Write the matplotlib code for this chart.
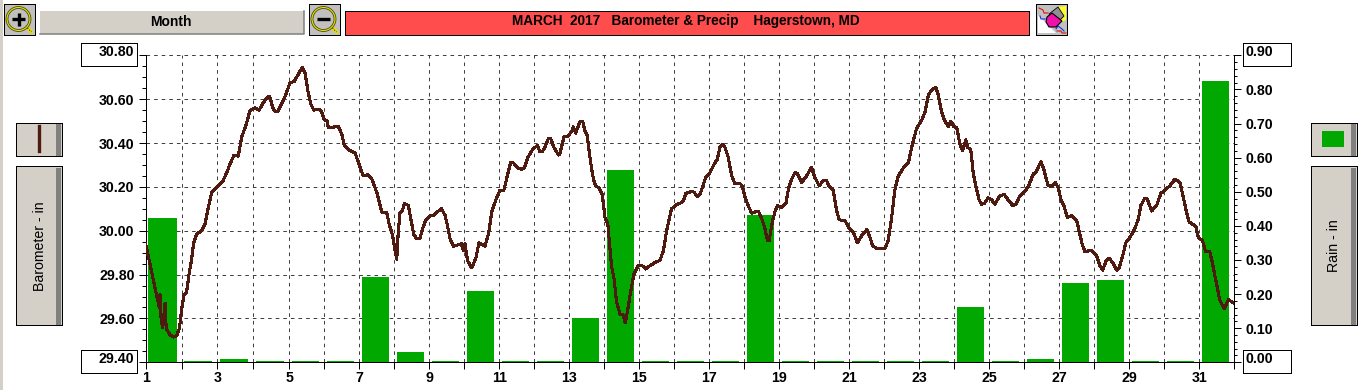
import numpy as np
import matplotlib
matplotlib.use("Agg")
import matplotlib.pyplot as plt
from matplotlib.patches import Rectangle, Circle, Polygon

plt.rcParams['font.family'] = ['Liberation Sans', 'DejaVu Sans']

# ---------- data ----------
rain_days = list(range(1, 32))
rain_in = [0.423, 0.004, 0.01, 0.004, 0.004, 0.004, 0.25, 0.03, 0.004, 0.21,
           0.004, 0.004, 0.13, 0.564, 0.004, 0.004, 0.004, 0.432, 0.004, 0.004,
           0.004, 0.004, 0.004, 0.162, 0.004, 0.01, 0.233, 0.241, 0.004, 0.004, 0.825]

baro_days = [
    1.00,1.09,1.17,1.23,1.31,1.38,1.40,1.42,1.47,1.54,1.57,1.68,1.77,1.86,1.94,2.00,2.07,2.14,2.21,2.28,
    2.33,2.42,2.56,2.65,2.75,2.84,2.96,3.07,3.16,3.27,3.35,3.46,3.58,3.67,3.79,3.91,4.05,4.16,4.28,4.39,
    4.46,4.54,4.60,4.68,4.79,4.90,5.02,5.14,5.26,5.37,5.45,5.54,5.62,5.70,5.83,5.92,6.00,6.09,6.11,6.40,
    6.50,6.57,6.69,6.88,7.00,7.11,7.24,7.35,7.51,7.64,7.78,7.86,7.95,8.02,8.07,8.11,8.16,8.23,8.29,8.40,
    8.50,8.56,8.64,8.73,8.81,8.90,9.04,9.13,9.26,9.35,9.45,9.51,9.59,9.69,9.92,9.97,10.02,10.09,10.21,10.33,
    10.42,10.59,10.69,10.79,10.90,11.02,11.13,11.23,11.32,11.40,11.54,11.63,11.71,11.82,11.95,12.09,12.16,12.23,12.30,12.40,
    12.47,12.56,12.69,12.73,12.85,12.94,13.09,13.11,13.18,13.30,13.38,13.45,13.51,13.59,13.64,13.69,13.75,13.85,13.94,14.02,
    14.10,14.16,14.21,14.28,14.35,14.45,14.54,14.60,14.69,14.75,14.85,14.97,15.09,15.18,15.30,15.45,15.59,15.69,15.78,15.92,
    16.07,16.16,16.26,16.33,16.50,16.57,16.66,16.73,16.81,16.90,17.02,17.16,17.23,17.30,17.38,17.45,17.54,17.64,17.73,17.88,
    17.94,18.02,18.11,18.21,18.40,18.50,18.59,18.66,18.71,18.80,18.88,18.95,19.07,19.19,19.26,19.35,19.45,19.52,19.64,19.78,
    19.92,20.01,20.14,20.26,20.35,20.43,20.54,20.64,20.71,20.88,21.00,21.11,21.23,21.38,21.50,21.59,21.67,21.78,22.02,22.11,
    22.21,22.30,22.40,22.54,22.69,22.78,22.92,23.07,23.16,23.26,23.35,23.47,23.54,23.64,23.73,23.83,23.90,23.99,24.07,24.16,
    24.24,24.33,24.38,24.47,24.54,24.62,24.71,24.78,24.86,24.97,25.07,25.16,25.30,25.43,25.54,25.67,25.76,25.86,25.99,26.11,
    26.26,26.33,26.47,26.56,26.67,26.78,26.89,26.97,27.05,27.14,27.23,27.35,27.50,27.57,27.66,27.73,27.92,28.07,28.16,28.24,
    28.33,28.43,28.54,28.64,28.71,28.81,28.90,29.02,29.16,29.26,29.33,29.43,29.51,29.64,29.78,29.90,30.02,30.16,30.30,30.45,
    30.54,30.64,30.71,30.90,30.97,31.09,31.18,31.30,31.38,31.45,31.53,31.58,31.71,31.83,32.00]
baro_in = [
    29.94,29.87,29.81,29.76,29.70,29.65,29.71,29.61,29.56,29.67,29.555,29.525,29.515,29.52,29.555,29.64,29.71,29.72,29.805,29.87,
    29.94,29.985,30.00,30.03,30.11,30.175,30.195,30.215,30.23,30.27,30.305,30.345,30.34,30.425,30.48,30.55,30.56,30.55,30.585,30.61,
    30.61,30.56,30.545,30.545,30.58,30.62,30.675,30.68,30.715,30.745,30.72,30.63,30.575,30.55,30.555,30.545,30.505,30.50,30.47,30.475,
    30.44,30.39,30.37,30.355,30.30,30.25,30.255,30.24,30.17,30.085,30.085,30.025,29.98,29.91,29.87,29.985,30.08,30.09,30.125,30.115,
    30.03,29.98,29.965,29.965,30.01,30.05,30.07,30.07,30.09,30.10,30.07,30.03,29.965,29.93,29.94,29.91,29.94,29.865,29.83,29.875,
    29.945,29.93,29.985,30.09,30.14,30.185,30.185,30.25,30.31,30.31,30.285,30.28,30.285,30.335,30.37,30.39,30.36,30.36,30.38,30.42,
    30.42,30.38,30.345,30.35,30.43,30.43,30.455,30.475,30.445,30.495,30.50,30.455,30.435,30.335,30.28,30.235,30.205,30.195,30.165,30.06,
    30.03,29.925,29.835,29.78,29.675,29.62,29.615,29.58,29.66,29.72,29.805,29.84,29.84,29.825,29.84,29.855,29.865,29.91,30.00,30.10,
    30.12,30.125,30.135,30.17,30.18,30.175,30.155,30.165,30.20,30.245,30.265,30.31,30.325,30.38,30.395,30.38,30.335,30.25,30.215,30.215,
    30.205,30.155,30.115,30.08,30.09,30.055,30.01,29.955,29.955,30.04,30.09,30.115,30.105,30.125,30.19,30.235,30.265,30.26,30.22,30.25,
    30.29,30.245,30.205,30.23,30.23,30.20,30.185,30.09,30.05,30.045,30.01,29.995,29.945,29.985,30.005,29.97,29.93,29.92,29.92,29.955,
    30.06,30.185,30.25,30.285,30.31,30.38,30.465,30.505,30.54,30.62,30.64,30.655,30.62,30.54,30.50,30.475,30.50,30.475,30.47,30.395,
    30.365,30.415,30.38,30.37,30.265,30.20,30.14,30.12,30.125,30.15,30.14,30.12,30.16,30.165,30.14,30.115,30.12,30.155,30.175,30.20,
    30.26,30.265,30.315,30.28,30.21,30.20,30.22,30.195,30.14,30.11,30.06,30.07,30.045,29.995,29.935,29.905,29.91,29.885,29.84,29.82,
    29.86,29.875,29.85,29.82,29.83,29.885,29.945,29.97,30.01,30.055,30.115,30.145,30.145,30.09,30.115,30.17,30.185,30.205,30.235,30.22,
    30.155,30.08,30.04,30.02,29.97,29.955,29.905,29.905,29.85,29.79,29.73,29.685,29.645,29.685,29.67]

tick_days = list(range(1, 33))
baro_ticks = [29.4, 29.6, 29.8, 30.0, 30.2, 30.4, 30.6, 30.8]
rain_ticks = [0.0, 0.1, 0.2, 0.3, 0.4, 0.5, 0.6, 0.7, 0.8, 0.9]
title_text = "MARCH  2017   Barometer & Precip    Hagerstown, MD"
span_text = "Month"
left_label = "Barometer - in"
right_label = "Rain - in"

# ---------- styles ----------
W, H = 1365, 390
FACE = '#d4d0c8'
SHADE = '#808080'
RED = '#ff4d4d'
GREEN = '#00a800'
BROWN = '#4f1b10'
GRID = '#404040'
DASH = (0, (3.6, 4.0))
THIN = 0.72

fig = plt.figure(figsize=(W / 100, H / 100), dpi=100, facecolor='white')

# overlay in pixel coordinates for the window furniture
ui = fig.add_axes([0, 0, 1, 1], zorder=0)
ui.set_xlim(0, W)
ui.set_ylim(H, 0)
ui.axis('off')


def box(x0, y0, x1, y1, fc, ec='black', lw=THIN, z=1):
    ui.add_patch(Rectangle((x0, y0), x1 - x0, y1 - y0, fc=fc, ec=ec, lw=lw, zorder=z,
                           antialiased=False))


def raised(x0, y0, x1, y1, border=True):
    box(x0, y0, x1, y1, FACE, 'black' if border else 'none')
    box(x1 - 5.5, y0 + 1.5, x1 - 0.5, y1 - 0.5, SHADE, 'none', z=2)


# left window edge
box(0, 0, 2.5, H, FACE, 'none')


def magnifier(x0, minus=False):
    box(x0, 3.5, x0 + 31.5, 34.5, '#c0c0c0')
    cx, cy = x0 + 15, 19
    ui.plot([cx + 9, cx + 13], [cy + 9, cy + 13], color='#e8e000', lw=2.4, zorder=3)
    ui.plot([cx + 9, cx + 13], [cy + 9, cy + 13], color='black', lw=0.7, ls=':', zorder=3)
    ui.add_patch(Circle((cx, cy), 11.5, fc='none', ec='#4a4a10', lw=2.0, zorder=3))
    ui.add_patch(Circle((cx, cy), 11.5, fc='none', ec='#e8e000', lw=0.8, zorder=4))
    ui.plot([cx - 6.5, cx + 6.5], [cy, cy], color='black', lw=2.4, zorder=5, solid_capstyle='butt')
    if not minus:
        ui.plot([cx, cx], [cy - 6.5, cy + 6.5], color='black', lw=2.4, zorder=5, solid_capstyle='butt')


magnifier(3.5)
magnifier(308.5, minus=True)

# span button
box(39.5, 10.5, 303.5, 34, FACE, 'none')
ui.plot([39.5, 303.5, 303.5], [33.5, 33.5, 10.5], color=SHADE, lw=1.1, zorder=2)
ui.text(171, 22.3, span_text, ha='center', va='center', fontsize=10, fontweight='bold', zorder=3)

# title
box(344.5, 10.5, 1028.5, 34.5, RED)
ui.text(686, 21.5, title_text, ha='center', va='center', fontsize=9.85, fontweight='bold', zorder=3)

# eraser icon
box(1035.5, 3.5, 1066.5, 34.5, '#c0c0c0')
ui.add_patch(Polygon([[1038, 33], [1038, 15], [1056, 33]], fc='white', ec='none', zorder=2))
ui.add_patch(Polygon([[1058, 7], [1066, 6], [1066, 20], [1062, 22]], fc='#ffff30', ec='none', zorder=2))
ui.add_patch(Polygon([[1049, 14], [1058, 7], [1064, 16], [1056, 24]], fc='#909090', ec='black', lw=0.6, zorder=3))
ui.add_patch(Polygon([[1047, 17], [1052, 13], [1062, 21], [1056, 27], [1049, 27], [1046, 22]],
                     fc='#ee10a8', ec='black', lw=0.8, zorder=4))
ui.plot([1039, 1043, 1044, 1048], [8, 10, 13, 13], color='#e01010', lw=0.8, zorder=3)
ui.plot([1040, 1041, 1045], [16, 19, 19], color='#1030e0', lw=0.8, zorder=3)
ui.plot([1056, 1058, 1062, 1064], [29, 26, 29, 31], color='#1030e0', lw=0.8, zorder=3)
ui.plot([1057, 1061, 1062, 1066], [31, 31, 33, 33], color='#e01010', lw=0.8, zorder=3)

# side buttons
raised(15.5, 122.5, 61.5, 156)
ui.plot([38.5, 38.5], [126, 151], color=BROWN, lw=2.4, zorder=3)
raised(15.5, 166, 61.5, 325)
ui.text(39.5, 246, left_label, rotation=90, ha='center', va='center', fontsize=10.2, zorder=3)
raised(1310.5, 122.5, 1356.5, 156)
box(1322, 131, 1344, 146.5, GREEN, 'none', z=3)
raised(1310.5, 166, 1356.5, 325)
ui.text(1334.5, 246, right_label, rotation=90, ha='center', va='center', fontsize=10.2, zorder=3)

# end-of-scale boxes
box(80.5, 42.5, 136.5, 65.5, 'white')
box(80.5, 349.5, 136.5, 372.5, 'white')
box(1242.5, 42.5, 1290.5, 65.5, 'white')
box(1242.5, 349.5, 1290.5, 372.5, 'white')
lab = dict(fontsize=10.2, fontweight='bold', va='center', zorder=3)
ui.text(134.5, 52, f"{baro_ticks[-1]:.2f}", ha='right', **lab)
ui.text(134.5, 359, f"{baro_ticks[0]:.2f}", ha='right', **lab)
ui.text(1245, 52, f"{rain_ticks[-1]:.2f}", ha='left', **lab)
ui.text(1245, 359, f"{rain_ticks[0]:.2f}", ha='left', **lab)

# ---------- chart ----------
left, right, top, bottom = 145.7, 1234.3, 55.3, 362.3
ax_r = fig.add_axes([left / W, 1 - bottom / H, (right - left) / W, (bottom - top) / H], zorder=2)
ax_r.patch.set_visible(False)


def fwd(d):
    return np.interp(d, [1, 5, 32], [0.0, 143.6, 1088.6])


def inv(p):
    return np.interp(p, [0.0, 143.6, 1088.6], [1, 5, 32])


ax_r.set_xscale('function', functions=(fwd, inv))
ax_r.set_xlim(1, 32)
ax_r.set_ylim(0, 0.9)
ax_p = ax_r.twinx()
ax_p.patch.set_visible(False)
ax_p.set_ylim(29.4, 30.8)

# dashed grid, under the bars
for d in tick_days[1:-1]:
    ax_r.axvline(d, color=GRID, lw=THIN, ls=DASH, zorder=0.5)
for b in baro_ticks[1:]:
    ax_r.plot([0, 1], [b, b], transform=ax_p.get_yaxis_transform(), color=GRID, lw=THIN,
              ls=DASH, zorder=0.5, clip_on=False)

ax_r.bar(np.array(rain_days) + 0.07, rain_in, width=0.79, align='edge', color=GREEN,
         linewidth=0, zorder=2)
ax_p.plot(baro_days, baro_in, color=BROWN, lw=1.5, zorder=3, antialiased=False,
          solid_joinstyle='round')

ax_r.set_xticks(tick_days)
ax_r.set_xticklabels([str(d) if d % 2 else '' for d in tick_days], fontsize=10.2, fontweight='bold')
ax_r.xaxis.set_minor_locator(matplotlib.ticker.NullLocator())
ax_r.tick_params(axis='x', length=5, width=THIN, pad=1.5)

ax_r.yaxis.tick_right()
ax_r.set_yticks(rain_ticks)
ax_r.set_yticklabels(['' if v in (rain_ticks[0], rain_ticks[-1]) else f"{v:.2f}" for v in rain_ticks],
                     fontsize=10.2, fontweight='bold')
ax_r.set_yticks(np.arange(0, 0.9001, 0.02), minor=True)
ax_r.tick_params(axis='y', which='major', length=5, width=THIN, pad=3)
ax_r.tick_params(axis='y', which='minor', length=2.5, width=THIN)

ax_p.yaxis.tick_left()
ax_p.set_yticks(baro_ticks)
ax_p.set_yticklabels(['' if v in (baro_ticks[0], baro_ticks[-1]) else f"{v:.2f}" for v in baro_ticks],
                     fontsize=10.2, fontweight='bold')
ax_p.set_yticks(np.arange(29.4, 30.8001, 0.05), minor=True)
ax_p.tick_params(axis='y', which='major', length=5, width=THIN, pad=3)
ax_p.tick_params(axis='y', which='minor', length=3, width=THIN)

for a in (ax_r, ax_p):
    a.spines['top'].set_visible(False)
    for s in ('left', 'right', 'bottom'):
        a.spines[s].set_linewidth(THIN)

fig.savefig('out.png', dpi=100, facecolor='white')
